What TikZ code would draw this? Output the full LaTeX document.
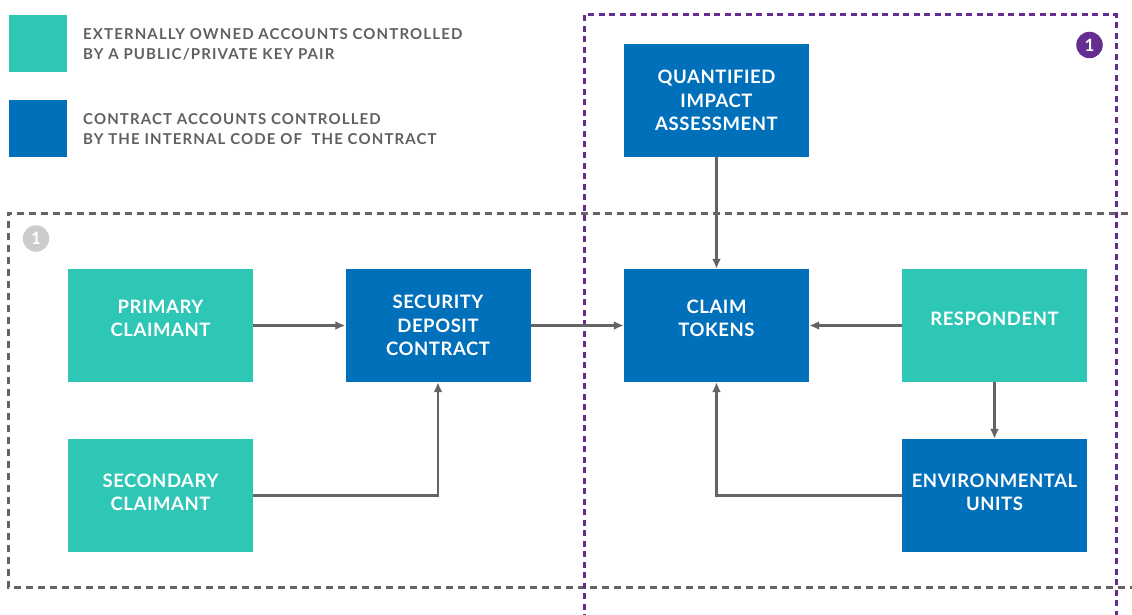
\documentclass[tikz,border=0pt]{standalone}
\usepackage{fontspec}
\setmainfont{Lato}
\usetikzlibrary{positioning,arrows.meta}
\definecolor{eoacol}{RGB}{46,199,182}
\definecolor{contractcol}{RGB}{0,112,187}
\definecolor{groupcol}{RGB}{102,45,145}
\definecolor{linecol}{RGB}{100,100,100}
\definecolor{legendcol}{RGB}{96,96,96}
\tikzset{>={Latex[length=10pt,width=9pt]}}
\tikzset{
	eoa/.style={fill=eoacol, minimum width=185pt, minimum height=113pt, inner sep=0pt},
	contract/.style={fill=contractcol, minimum width=185pt, minimum height=113pt, inner sep=0pt},
	boxtext/.style={text=white, align=center, inner sep=0pt, font=\fontsize{18.5}{23.5}\selectfont\bfseries\addfontfeatures{LetterSpace=3}},
	legendtext/.style={text=legendcol, align=left, anchor=west, inner sep=0pt, font=\fontsize{15}{20}\selectfont\bfseries\addfontfeatures{LetterSpace=7.5}},
	flow/.style={draw=linecol, line width=2.5pt, ->},
	numbadge/.style={circle, minimum size=26.5pt, inner sep=0pt, text=white, font=\fontsize{17}{17}\selectfont\bfseries}
}

\begin{document}
\begin{tikzpicture}[x=1pt,y=-1pt]
	\useasboundingbox (0,0) rectangle (1132,615);

	% legend
	\node[eoa, minimum width=58pt, minimum height=57pt] (keyeoa) at (38,43.5) {};
	\node[legendtext] (keyeoatext) at (83,44.5) {EXTERNALLY OWNED ACCOUNTS CONTROLLED\\BY A PUBLIC/PRIVATE KEY PAIR};
	\node[contract, minimum width=58pt, minimum height=57pt] (keycontract) at (38,128.5) {};
	\node[legendtext] (keycontracttext) at (83,129.5) {CONTRACT ACCOUNTS CONTROLLED\\BY THE INTERNAL CODE OF\ \ THE CONTRACT};

	% groups
	\draw[draw=linecol, line width=3pt, dash pattern=on 7pt off 5pt] (1140,213) -- (8,213) -- (8,587) -- (1140,587);
	\draw[draw=groupcol, line width=3pt, dash pattern=on 6pt off 4.5pt] (584,620) -- (584,15) -- (1116,15) -- (1116,620);
	\node[numbadge, fill=black!20] (badgeleft) at (36,238.5) {1};
	\node[numbadge, fill=groupcol] (badgeright) at (1089.5,45) {1};

	% accounts
	\node[contract] (quantified) at (716.5,100.5) {};
	\node[boxtext] (quantifiedtext) at (quantified) {QUANTIFIED\\IMPACT\\ASSESSMENT};
	\node[eoa] (primary) at (160.5,325.5) {};
	\node[boxtext] (primarytext) at ([yshift=7pt]primary.center) {PRIMARY\\CLAIMANT};
	\node[contract] (security) at (438,325.5) {};
	\node[boxtext] (securitytext) at (security) {SECURITY\\DEPOSIT\\CONTRACT};
	\node[contract] (claim) at (716.5,325.5) {};
	\node[boxtext] (claimtext) at ([yshift=7pt]claim.center) {CLAIM\\TOKENS};
	\node[eoa] (respondent) at (994.5,325.5) {};
	\node[boxtext] (respondenttext) at ([yshift=7pt]respondent.center) {RESPONDENT};
	\node[eoa] (secondary) at (160.5,495.5) {};
	\node[boxtext] (secondarytext) at ([yshift=3pt]secondary.center) {SECONDARY\\CLAIMANT};
	\node[contract] (environmental) at (994.5,495.5) {};
	\node[boxtext] (environmentaltext) at ([yshift=3pt]environmental.center) {ENVIRONMENTAL\\UNITS};

	% flows
	\draw[flow] (primary) -- (security);
	\draw[flow] (security) -- (claim);
	\draw[flow] (respondent) -- (claim);
	\draw[flow] (quantified) -- (claim);
	\draw[flow] (respondent) -- (environmental);
	\draw[flow] (secondary.east) -| (security.south);
	\draw[flow] (environmental.west) -| (claim.south);
\end{tikzpicture}
\end{document}
